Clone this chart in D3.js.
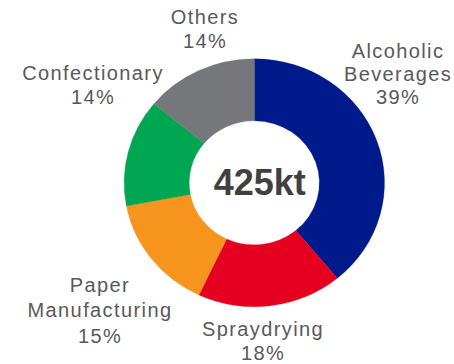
<!DOCTYPE html>
<html>
<head>
<meta charset="utf-8">
<script src="https://cdn.jsdelivr.net/npm/d3@7/dist/d3.min.js"></script>
<style>
  html, body { margin: 0; padding: 0; background: #ffffff; }
  svg { display: block; }
  .lbl { font-family: "Liberation Sans", Arial, sans-serif; font-size: 20px; fill: #595959; letter-spacing: 1.4px; }
  .total { font-family: "Liberation Sans", Arial, sans-serif; font-size: 36px; font-weight: bold; fill: #404040; }
</style>
</head>
<body>
<svg id="chart" width="454" height="364"></svg>
<script>
// Segment data, clockwise from 12 o'clock
const categories = ["Alcoholic Beverages", "Spraydrying", "Paper Manufacturing", "Confectionary", "Others"];
const labelLines = [["Alcoholic", "Beverages"], ["Spraydrying"], ["Paper", "Manufacturing"], ["Confectionary"], ["Others"]];
const shares = [39, 18, 15, 14, 14];
const colors = ["#001A8B", "#E6001F", "#F7941D", "#00A651", "#76777A"];
const totalValue = 425;
const totalUnit = "kt";

// Label anchors (centre x, first baseline y, line height)
const labelLayout = [
  { x: 398, y: 58, lh: 23.2 },
  { x: 263, y: 336, lh: 24 },
  { x: 100, y: 291.5, lh: 25.5 },
  { x: 93, y: 79.5, lh: 24.8 },
  { x: 205, y: 24, lh: 24.3 }
];

const svg = d3.select("#chart");
const cx = 254.3, cy = 182.8;
const outerR = 124, innerR = 62, stretchX = 1.05;

const pie = d3.pie().sort(null).value(d => d.value);
const arcs = pie(shares.map((v, i) => ({ name: categories[i], value: v, color: colors[i] })));
const arc = d3.arc().innerRadius(innerR).outerRadius(outerR);

const ring = svg.append("g")
  .attr("transform", `translate(${cx},${cy}) scale(${stretchX},1)`);

ring.selectAll("path")
  .data(arcs)
  .join("path")
  .attr("d", arc)
  .attr("fill", d => d.data.color)
  .attr("stroke", d => d.data.color)
  .attr("stroke-width", 0.3);

// Category labels with percentage on the last line
const labels = svg.append("g");
arcs.forEach((a, i) => {
  const L = labelLayout[i];
  const lines = labelLines[i].concat([a.data.value + "%"]);
  const t = labels.append("text")
    .attr("class", "lbl")
    .attr("text-anchor", "middle")
    .attr("x", L.x)
    .attr("y", L.y);
  lines.forEach((ln, j) => {
    t.append("tspan")
      .attr("x", L.x)
      .attr("y", L.y + j * L.lh)
      .text(ln);
  });
});

// Total in the centre of the ring
svg.append("text")
  .attr("class", "total")
  .attr("text-anchor", "middle")
  .attr("x", 259.7)
  .attr("y", 195)
  .text(totalValue + totalUnit);
</script>
</body>
</html>
